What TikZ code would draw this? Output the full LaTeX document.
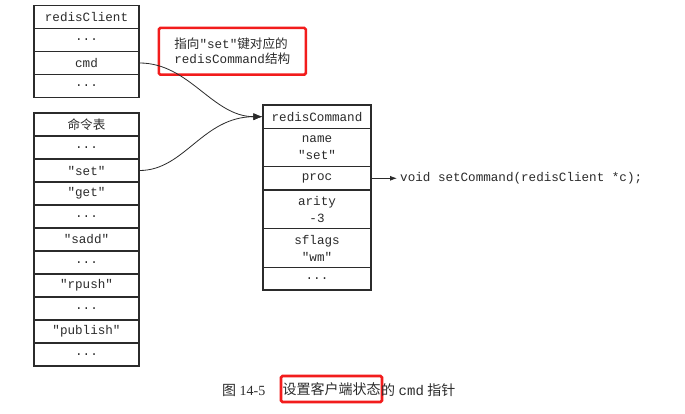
\documentclass[tikz,border=0pt]{standalone}
\usepackage{fontspec}
\usetikzlibrary{arrows.meta}
\setmainfont{Liberation Serif}
\setmonofont{Liberation Mono}
\newfontfamily\cjk{Noto Sans CJK SC}
\definecolor{ink}{HTML}{2B2B2B}
\definecolor{markred}{HTML}{F21C1C}
\tikzset{
  cell/.style={draw=ink, line width=1.1pt, inner sep=0pt, minimum width=105pt,
    minimum height=23pt, text=ink, align=center,
    font=\fontsize{12.6}{17}\selectfont\ttfamily},
  cmdcell/.style={cell, minimum width=108pt},
  note/.style={draw=markred, line width=2.6pt, rounded corners=1.5pt, text=ink},
  link/.style={draw=ink, line width=0.8pt, -{Latex[length=9pt, width=7pt]}},
  capt/.style={anchor=west, inner sep=0pt, text=ink, font=\fontsize{14}{16}\selectfont},
}
\begin{document}
\begin{tikzpicture}[x=1pt, y=-1pt]
  \useasboundingbox[fill=white] (0,0) rectangle (685,414);

  \node[cell] (rc) at (86.5, 17) {redisClient};
  \node[cell] (rc1) at (86.5, 40) {...};
  \node[cell] (rccmd) at (86.5, 63) {cmd};
  \node[cell] (rc3) at (86.5, 86) {...};

  \node[cell] (tbl) at (86.5, 124.5) {\cjk 命令表};
  \node[cell] (t1) at (86.5, 147.5) {...};
  \node[cell] (tset) at (86.5, 170.5) {"set"};
  \node[cell] (tget) at (86.5, 193.5) {"get"};
  \node[cell] (t4) at (86.5, 216.5) {...};
  \node[cell] (tsadd) at (86.5, 239.5) {"sadd"};
  \node[cell] (t6) at (86.5, 262.5) {...};
  \node[cell] (trpush) at (86.5, 285.5) {"rpush"};
  \node[cell] (t8) at (86.5, 308.5) {...};
  \node[cell] (tpub) at (86.5, 331.5) {"publish"};
  \node[cell] (t10) at (86.5, 354.5) {...};

  \node[cmdcell, minimum height=23.3pt] (cmd) at (317, 116.7) {redisCommand};
  \node[cmdcell, minimum height=38.4pt] (cname) at (317, 147.5) {name\\"set"};
  \node[cmdcell, minimum height=23.3pt] (cproc) at (317, 178.3) {proc};
  \node[cmdcell, minimum height=38.3pt] (carity) at (317, 209.2) {arity\\-3};
  \node[cmdcell, minimum height=39.4pt] (cflags) at (317, 248) {sflags\\"wm"};
  \node[cmdcell, minimum height=22.3pt] (cdots) at (317, 278.8) {...};

  \node[anchor=west, inner sep=3pt, text=ink,
    font=\fontsize{12.6}{17}\selectfont\ttfamily] (procfn) at (397, 178.3)
    {void setCommand(redisClient *c);};
  \draw[link, -{Latex[length=7pt, width=5pt]}] (cproc.east) -- (procfn.west);

  \node[note, align=left, minimum width=147pt, minimum height=46.7pt,
    font=\fontsize{12.6}{15.6}\selectfont\ttfamily] (hint) at (232.3, 51.3)
    {{\cjk 指向}"set"{\cjk 键对应的}\\redisCommand{\cjk 结构}};

  \draw[link] (rccmd.east) .. controls +(50, 0) and +(-50, 0) .. (cmd.west);
  \draw[link] (tset.east) .. controls +(45, 0) and +(-60, 0) .. (cmd.west);

  \node[capt] (fig) at (222, 390) {{\cjk 图} 14-5};
  \node[note, inner sep=0pt, minimum width=101pt, minimum height=26pt,
    font=\fontsize{14}{16}\selectfont] (capmark) at (331.5, 389)
    {\cjk 设置客户端状态};
  \node[capt] (capend) at (381, 390)
    {{\cjk 的} {\ttfamily cmd} {\cjk 指针}};

\end{tikzpicture}
\end{document}
